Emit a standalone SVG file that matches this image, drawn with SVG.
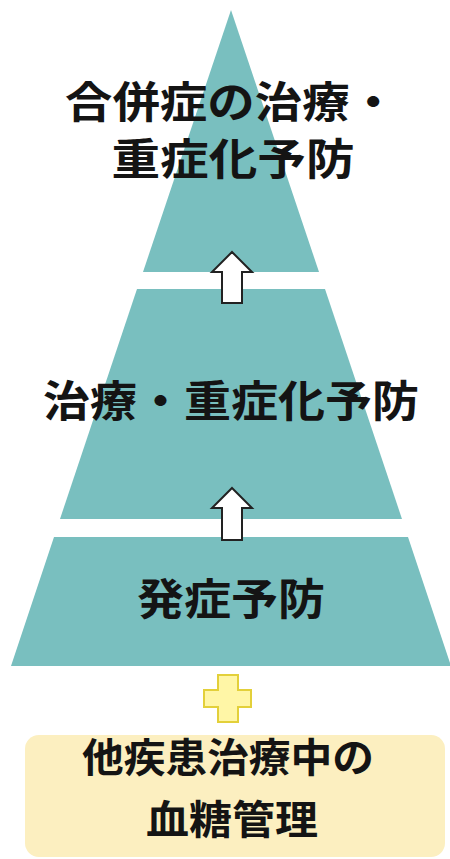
<svg xmlns="http://www.w3.org/2000/svg" width="450" height="859" viewBox="0 0 450 859">
<style>
.seg{fill:#79bfbf}
.lbl{font-family:"Noto Sans CJK JP","Noto Sans CJK SC",sans-serif;font-weight:700;fill:#141414;text-anchor:middle}
.arr{fill:#ffffff;stroke:#222;stroke-width:2;stroke-linejoin:miter}
.plus{fill:#fff6a6;stroke:#e3d03a;stroke-width:2}
.box{fill:#fcefc0}
</style>
<rect width="450" height="859" fill="#ffffff"/>
<g id="top">
<polygon class="seg" points="231,10 319,272 143,272"/>
<text class="lbl" x="231" y="118" font-size="43" textLength="332" lengthAdjust="spacingAndGlyphs">合併症の治療・</text>
<text class="lbl" x="233" y="175" font-size="43" textLength="243" lengthAdjust="spacingAndGlyphs">重症化予防</text>
</g>
<g id="middle">
<polygon class="seg" points="137,289 325,289 402,519 60,519"/>
<text class="lbl" x="231" y="417" font-size="43" textLength="376" lengthAdjust="spacingAndGlyphs">治療・重症化予防</text>
</g>
<g id="bottom">
<polygon class="seg" points="54,537 408,537 451,666 11,666"/>
<text class="lbl" x="231" y="615" font-size="43" textLength="188" lengthAdjust="spacingAndGlyphs">発症予防</text>
</g>
<g id="plus">
<polygon class="plus" points="218,675 238,675 238,690 251,690 251,707 238,707 238,722 218,722 218,707 204,707 204,690 218,690"/>
</g>
<g id="base">
<rect class="box" x="25" y="735" width="420" height="122" rx="14"/>
<text class="lbl" x="228" y="772" font-size="40" textLength="292" lengthAdjust="spacingAndGlyphs">他疾患治療中の</text>
<text class="lbl" x="232" y="834" font-size="40" textLength="172" lengthAdjust="spacingAndGlyphs">血糖管理</text>
</g>
<g id="connectors">
<polygon class="arr" points="232,252 252,272 242,272 242,303 222,303 222,272 212,272"/>
<polygon class="arr" points="232,488 252,508 242,508 242,540 222,540 222,508 212,508"/>
</g>
</svg>
